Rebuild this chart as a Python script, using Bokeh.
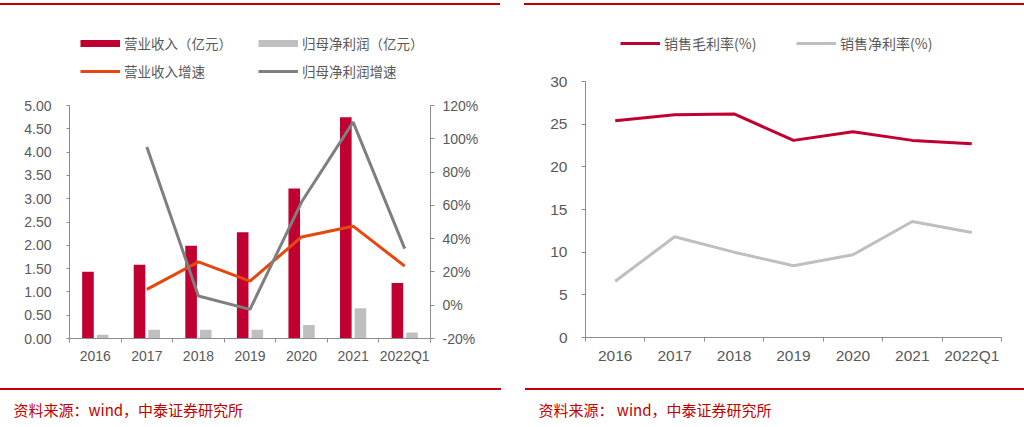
import numpy as np
from bokeh.plotting import figure
from bokeh.models import (LinearAxis, Range1d, FixedTicker, Legend, LegendItem, Title,
                          Div, CustomJSTickFormatter, ColumnDataSource)
from bokeh.layouts import row, column
from bokeh.embed import file_html
from bokeh.resources import INLINE

# ---------------- data ----------------
categories = ["2016", "2017", "2018", "2019", "2020", "2021", "2022Q1"]
revenue = [1.43, 1.58, 1.99, 2.28, 3.22, 4.75, 1.19]          # 营业收入（亿元）
net_profit = [0.08, 0.19, 0.19, 0.19, 0.29, 0.65, 0.13]       # 归母净利润（亿元）
revenue_growth = [np.nan, 9.5, 26.0, 14.5, 41.0, 47.5, 23.5]  # 营业收入增速 (%)
profit_growth = [np.nan, 95.0, 5.5, -2.5, 62.0, 110.0, 34.0]  # 归母净利润增速 (%)
gross_margin = [25.4, 26.1, 26.2, 23.1, 24.1, 23.1, 22.7]     # 销售毛利率(%)
net_margin = [6.6, 11.8, 10.0, 8.4, 9.7, 13.6, 12.3]          # 销售净利率(%)
left_ticks = [0.0, 0.5, 1.0, 1.5, 2.0, 2.5, 3.0, 3.5, 4.0, 4.5, 5.0]
pct_ticks = [-20, 0, 20, 40, 60, 80, 100, 120]
margin_ticks = [0, 5, 10, 15, 20, 25, 30]
source_text_left = "资料来源：wind，中泰证券研究所"
source_text_right = "资料来源：  wind，中泰证券研究所"

# ---------------- styles ----------------
RED_BAR = "#C00030"
GRAY_BAR = "#BFBFBF"
ORANGE = "#E8460F"
DARK_GRAY = "#7F7F7F"
RULE_RED = "#C00000"
AXIS_GRAY = "#8C8C8C"
TEXT_GRAY = "#595959"
CJK = "Noto Sans CJK SC"
LATIN = "Liberation Sans"

n = len(categories)
xc = np.arange(n) + 0.5
src = ColumnDataSource(dict(
    x=xc, x_rev=xc - 0.142, x_np=xc + 0.142,
    revenue=revenue, net_profit=net_profit,
    revenue_growth=revenue_growth, profit_growth=profit_growth,
    gross_margin=gross_margin, net_margin=net_margin,
))

cat_formatter = CustomJSTickFormatter(args=dict(labels=categories),
                                      code="return labels[Math.floor(tick)] || '';")


def rule(offset, length, top, bottom):
    # thin red rule: a 2px-high block with margins (top, right, bottom, left)
    return Div(text="", width=length, height=2,
               margin=(top, 512 - offset - length, bottom, offset),
               styles={"background-color": RULE_RED})


def blank(height, left, right, top=0, bottom=0):
    f = figure(width=512, height=height, output_backend="svg", toolbar_location=None,
               x_axis_type=None, y_axis_type=None,
               x_range=Range1d(0, 1), y_range=Range1d(0, 1),
               min_border_left=left, min_border_right=right,
               min_border_top=top, min_border_bottom=bottom)
    f.outline_line_color = None
    f.xgrid.visible = False
    f.ygrid.visible = False
    return f


def style_x_axis(ax, size, standoff):
    ax.ticker = FixedTicker(ticks=list(xc), minor_ticks=list(range(n + 1)))
    ax.formatter = cat_formatter
    ax.major_tick_line_color = None
    ax.major_tick_out = 0
    ax.major_tick_in = 0
    ax.minor_tick_line_color = AXIS_GRAY
    ax.minor_tick_out = 4
    ax.minor_tick_in = 0
    ax.axis_line_color = AXIS_GRAY
    ax.major_label_text_font = LATIN
    ax.major_label_text_font_size = size
    ax.major_label_text_color = TEXT_GRAY
    ax.major_label_standoff = standoff


def style_y_axis(ax, size, standoff, tick_out=4):
    ax.axis_line_color = AXIS_GRAY
    ax.major_tick_line_color = AXIS_GRAY
    ax.major_tick_out = tick_out
    ax.major_tick_in = 0
    ax.minor_tick_line_color = None
    ax.major_label_text_font = LATIN
    ax.major_label_text_font_size = size
    ax.major_label_text_color = TEXT_GRAY
    ax.major_label_standoff = standoff


def make_legend(items, loc, size):
    return Legend(items=items, location=loc, orientation="vertical", spacing=8,
                  padding=0, margin=0, glyph_width=40, glyph_height=20, label_height=20,
                  label_standoff=4, border_line_color=None, background_fill_alpha=0,
                  label_text_font=CJK, label_text_font_size=size,
                  label_text_color=TEXT_GRAY)


def footer(left, right, text, offset):
    f = blank(35, left, right, top=27)
    f.add_layout(Title(text=text, align="left", offset=offset, standoff=0,
                       text_font=CJK, text_font_size="15px", text_font_style="normal",
                       text_color=RULE_RED), "above")
    return f


# ================= left column =================
L_LEFT, L_RIGHT = 69, 82
t1 = blank(77, L_LEFT, L_RIGHT)
lg_rev = t1.line(x="x", y="revenue", source=src, line_color=RED_BAR, line_width=7, visible=False)
lg_rg = t1.line(x="x", y="revenue_growth", source=src, line_color=ORANGE, line_width=3, visible=False)
lg_np = t1.line(x="x", y="net_profit", source=src, line_color=GRAY_BAR, line_width=7, visible=False)
lg_pg = t1.line(x="x", y="profit_growth", source=src, line_color=DARK_GRAY, line_width=3, visible=False)
t1.add_layout(make_legend([LegendItem(label="营业收入（亿元）", renderers=[lg_rev]),
                           LegendItem(label="营业收入增速", renderers=[lg_rg])],
                          (11, 4), "13.5px"))
t1.add_layout(make_legend([LegendItem(label="归母净利润（亿元）", renderers=[lg_np]),
                           LegendItem(label="归母净利润增速", renderers=[lg_pg])],
                          (189, 4), "13.5px"))

p1 = figure(width=512, height=300, output_backend="svg", toolbar_location=None,
            x_range=Range1d(0, n), y_range=Range1d(0, 5),
            min_border_left=L_LEFT, min_border_right=L_RIGHT,
            min_border_top=20, min_border_bottom=47)
p1.extra_y_ranges = {"pct": Range1d(-20, 120)}
p1.outline_line_color = None
p1.xgrid.visible = False
p1.ygrid.visible = False

p1.vbar(x="x_rev", top="revenue", width=0.225, source=src,
        fill_color=RED_BAR, line_color=None)
p1.vbar(x="x_np", top="net_profit", width=0.225, source=src,
        fill_color=GRAY_BAR, line_color=None)
p1.line(x="x", y="revenue_growth", source=src, y_range_name="pct",
        line_color=ORANGE, line_width=3)
p1.line(x="x", y="profit_growth", source=src, y_range_name="pct",
        line_color=DARK_GRAY, line_width=3)

style_x_axis(p1.xaxis[0], "14px", 5)
p1.yaxis[0].ticker = FixedTicker(ticks=left_ticks)
p1.yaxis[0].formatter = CustomJSTickFormatter(code="return tick.toFixed(2);")
style_y_axis(p1.yaxis[0], "14px", 15, 3)

ax_r = LinearAxis(y_range_name="pct", ticker=FixedTicker(ticks=pct_ticks),
                  formatter=CustomJSTickFormatter(code="return tick.toFixed(0) + '%';"))
style_y_axis(ax_r, "14px", 8)
p1.add_layout(ax_r, "right")

f1 = footer(L_LEFT, L_RIGHT, source_text_left, 13 - L_LEFT)

left_col = column(rule(0, 500, 3, 3), t1, p1, rule(0, 501, 3, 2), f1)

# ================= right column =================
R_LEFT, R_RIGHT = 73, 23
t2 = blank(52, R_LEFT, R_RIGHT)
lg_gm = t2.line(x="x", y="gross_margin", source=src, line_color=RED_BAR, line_width=3, visible=False)
lg_nm = t2.line(x="x", y="net_margin", source=src, line_color=GRAY_BAR, line_width=3, visible=False)
t2.add_layout(make_legend([LegendItem(label="销售毛利率(%)", renderers=[lg_gm])],
                          (35, 7), "14px"))
t2.add_layout(make_legend([LegendItem(label="销售净利率(%)", renderers=[lg_nm])],
                          (211, 7), "14px"))

p2 = figure(width=512, height=325, output_backend="svg", toolbar_location=None,
            x_range=Range1d(0, n), y_range=Range1d(0, 30),
            min_border_left=R_LEFT, min_border_right=R_RIGHT,
            min_border_top=21, min_border_bottom=48)
p2.outline_line_color = None
p2.xgrid.visible = False
p2.ygrid.visible = False

p2.line(x="x", y="gross_margin", source=src, line_color=RED_BAR, line_width=3)
p2.line(x="x", y="net_margin", source=src, line_color=GRAY_BAR, line_width=3)

style_x_axis(p2.xaxis[0], "15.5px", 5)
p2.yaxis[0].ticker = FixedTicker(ticks=margin_ticks)
style_y_axis(p2.yaxis[0], "15.5px", 14)

f2 = footer(R_LEFT, R_RIGHT, source_text_right, 26 - R_LEFT)

right_col = column(rule(12, 500, 3, 3), t2, p2, rule(13, 499, 3, 2), f2)

layout = row(left_col, right_col)
open("out.html", "w").write(file_html(layout, INLINE))
